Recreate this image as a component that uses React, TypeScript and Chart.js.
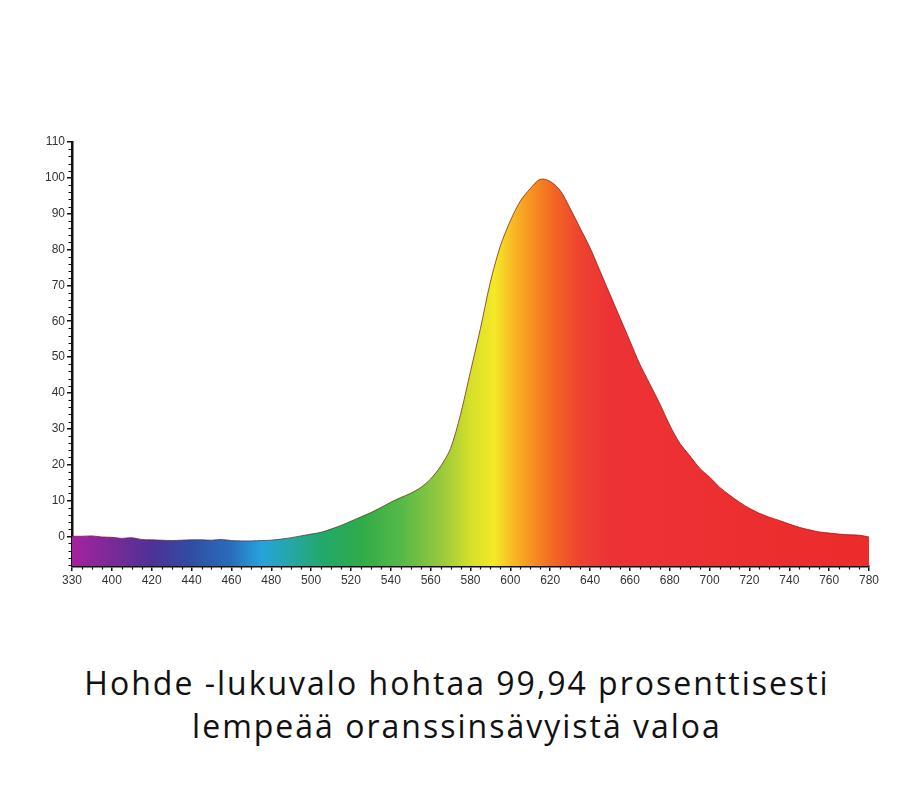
import React, { useEffect, useRef } from "react";
import { Chart, registerables } from "chart.js";

Chart.register(...registerables);

// Wavelengths (nm) and relative intensity (%)
const wavelengths = [
  380, 385, 390, 395, 400, 405, 410, 415, 420, 425, 430, 435, 440, 445, 450, 455, 460, 465, 470, 475,
  480, 485, 490, 495, 500, 505, 510, 515, 520, 525, 530, 535, 540, 545, 550, 555, 560, 565, 570, 575,
  580, 585, 590, 595, 600, 605, 610, 615, 620, 625, 630, 635, 640, 645, 650, 655, 660, 665, 670, 675,
  680, 685, 690, 695, 700, 705, 710, 715, 720, 725, 730, 735, 740, 745, 750, 755, 760, 765, 770, 775, 780,
];
const intensity = [
  0, 0, 0.1, -0.2, -0.3, -0.6, -0.4, -0.9, -1.0, -1.1, -1.2, -1.1, -1.0, -1.0, -1.1, -0.9, -1.2, -1.3, -1.3, -1.2,
  -1.1, -0.8, -0.4, 0.1, 0.6, 1.1, 2.0, 3.0, 4.2, 5.4, 6.6, 8.0, 9.5, 10.8, 12.0, 13.6, 16.0, 19.5, 24.5, 34,
  46, 58, 71, 81, 88, 93.5, 97, 99.6, 99, 96.5, 91.5, 86, 80.5, 74, 67.5, 61, 54.5, 48, 42.5, 37,
  31, 26, 22.5, 19, 16.5, 13.7, 11.5, 9.5, 7.8, 6.4, 5.3, 4.4, 3.4, 2.5, 1.8, 1.2, 0.9, 0.6, 0.4, 0.3, -0.2,
];

// X tick labels as printed on the original axis (first one reads 330)
const xTickLabels = [
  "330", "400", "420", "440", "460", "480", "500", "520", "540", "560", "580",
  "600", "620", "640", "660", "680", "700", "720", "740", "760", "780",
];

const captionLines = [
  "Hohde -lukuvalo hohtaa 99,94 prosenttisesti",
  "lempeää oranssinsävyistä valoa",
];

// Spectrum colour stops (wavelength -> colour)
const stopWavelengths = [380, 400, 420, 440, 460, 475, 490, 505, 525, 545, 565, 580, 592, 602, 612, 622, 635, 650, 780];
const stopColors = [
  "#a3239f", "#7b2a98", "#4d3197", "#2f4ea3", "#2a6dbd", "#27a3dc", "#25a7a6", "#22a86c", "#2fab4a",
  "#55b947", "#96c83e", "#d6df2a", "#f4e928", "#f8b624", "#f68d20", "#f26624", "#ee4330", "#ed3236", "#ec2b2b",
];

const minorTicks = {
  id: "minorTicks",
  afterDraw(chart: any) {
    const ctx = chart.ctx;
    const xs = chart.scales.x;
    const ys = chart.scales.y;
    const area = chart.chartArea;
    ctx.save();
    ctx.strokeStyle = "#111";
    ctx.lineWidth = 1.2;
    ctx.beginPath();
    for (let v = -8; v <= 110; v += 2) {
      if (v % 10 === 0) continue;
      const y = Math.round(ys.getPixelForValue(v)) + 0.5;
      ctx.moveTo(area.left - 3.5, y);
      ctx.lineTo(area.left, y);
    }
    for (let v = 385; v < 780; v += 5) {
      if (v % 20 === 0) continue;
      const x = Math.round(xs.getPixelForValue(v)) + 0.5;
      ctx.moveTo(x, area.bottom);
      ctx.lineTo(x, area.bottom + 3.5);
    }
    ctx.stroke();
    ctx.restore();
  },
};

export default function App() {
  const ref = useRef<HTMLCanvasElement | null>(null);

  useEffect(() => {
    if (!ref.current) return;
    const points = wavelengths.map((w, i) => ({ x: w, y: intensity[i] }));
    const chart = new Chart(ref.current, {
      type: "line",
      data: {
        datasets: [
          {
            data: points,
            fill: "start",
            borderColor: "rgba(110,35,35,0.75)",
            borderWidth: 1,
            pointRadius: 0,
            tension: 0.3,
            backgroundColor: (c: any) => {
              const ch = c.chart;
              const area = ch.chartArea;
              const xs = ch.scales.x;
              if (!area || !xs) return "#ec2b2b";
              const x0 = xs.getPixelForValue(380);
              const x1 = xs.getPixelForValue(780);
              const g = ch.ctx.createLinearGradient(x0, 0, x1, 0);
              stopWavelengths.forEach((w, i) => {
                g.addColorStop((w - 380) / 400, stopColors[i]);
              });
              return g;
            },
          },
        ],
      },
      options: {
        responsive: false,
        animation: false,
        layout: { padding: { left: 38, right: 45, top: 142, bottom: 4 } },
        plugins: { legend: { display: false }, tooltip: { enabled: false } },
        scales: {
          x: {
            type: "linear",
            min: 380,
            max: 780,
            afterFit: (s: any) => {
              s.height = 30;
            },
            ticks: {
              stepSize: 20,
              autoSkip: false,
              maxRotation: 0,
              padding: 2,
              color: "#333",
              font: { family: "'Liberation Sans Narrow', 'Liberation Sans', sans-serif", size: 12 },
              callback: (_v: any, i: number) => xTickLabels[i] ?? "",
            },
            grid: { drawOnChartArea: false, drawTicks: true, tickLength: 5, color: "#111", lineWidth: 1.5 },
            border: { display: true, color: "#111", width: 2.5 },
          },
          y: {
            min: -8.3,
            max: 110,
            afterFit: (s: any) => {
              s.width = 34;
            },
            ticks: {
              stepSize: 10,
              includeBounds: false,
              padding: 2,
              color: "#333",
              font: { family: "'Liberation Sans Narrow', 'Liberation Sans', sans-serif", size: 12 },
              callback: (v: any) => (v < 0 ? "" : String(v)),
            },
            grid: { drawOnChartArea: false, drawTicks: true, tickLength: 5, color: "#111", lineWidth: 1.5 },
            border: { display: true, color: "#111", width: 2.5 },
          },
        },
      },
      plugins: [minorTicks],
    });
    return () => chart.destroy();
  }, []);

  return (
    <div style={{ position: "absolute", left: 0, top: 0, width: 914, height: 810, background: "#fff" }}>
      <canvas ref={ref} width={914} height={600} style={{ display: "block" }} />
      <div
        style={{
          position: "absolute",
          left: 0,
          top: 661,
          width: 914,
          textAlign: "center",
          fontFamily: "'Open Sans', 'Noto Sans', sans-serif",
          fontWeight: 500,
          fontSize: 32,
          letterSpacing: "2px",
          lineHeight: "43px",
          color: "#111",
        }}
      >
        {captionLines.map((l, i) => (
          <div key={i}>{l}</div>
        ))}
      </div>
    </div>
  );
}
